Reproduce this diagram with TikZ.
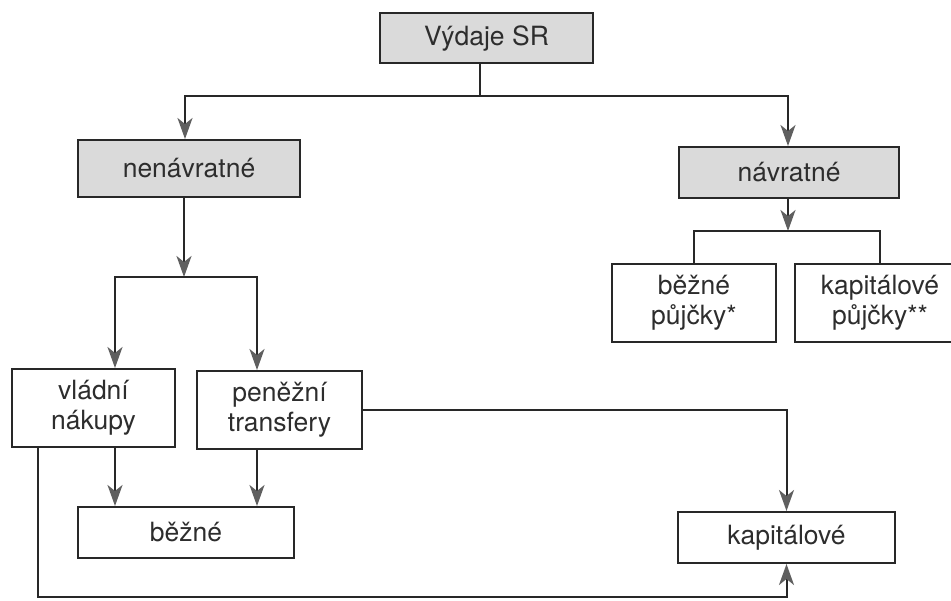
\documentclass[tikz,border=0pt]{standalone}
\usepackage{fontspec}
\setmainfont{TeX Gyre Heros}
\usetikzlibrary{arrows.meta}
\definecolor{ink}{RGB}{40,40,40}
\definecolor{txt}{RGB}{45,45,45}
\definecolor{shade}{RGB}{218,218,218}
\definecolor{tipc}{RGB}{95,95,95}
\begin{document}
\begin{tikzpicture}[x=1pt,y=-1pt,
  box/.style={draw=ink,line width=2pt,text=txt,align=center,inner sep=0pt,
    font=\fontsize{26.5}{30}\selectfont},
  gbox/.style={box,fill=shade},
  ln/.style={draw=ink,line width=2pt},
  arr/.style={ln,-{Stealth[length=21pt,width=15pt,inset=6pt,fill=tipc,color=tipc]}}]
\useasboundingbox (0,0) rectangle (951,601);
\fill[white] (0,0) rectangle (951,601);
% nodes
\node[gbox,minimum width=213pt,minimum height=50pt] (top) at (486.5,38) {Výdaje SR};
\node[gbox,minimum width=222pt,minimum height=57pt] (nen) at (189,168.5) {nenávratné};
\node[gbox,minimum width=220pt,minimum height=51pt] (nav) at (789,172.5) {návratné};
\node[box,minimum width=164pt,minimum height=78pt] (bp) at (694,303) {běžné\\půjčky*};
\node[box,minimum width=170pt,minimum height=78pt] (kp) at (880,303) {kapitálové\\půjčky**};
\node[box,minimum width=163pt,minimum height=78pt] (vn) at (93.5,408) {vládní\\nákupy};
\node[box,minimum width=165pt,minimum height=78pt] (pt) at (279.5,410) {peněžní\\transfery};
\node[box,minimum width=216pt,minimum height=51pt] (bz) at (186,532.5) {běžné};
\node[box,minimum width=217pt,minimum height=51pt] (kz) at (786.5,537.5) {kapitálové};
% junctions
\coordinate (b1) at (480,96);
\coordinate (b2) at (184,277);
\coordinate (b3) at (786.5,597);
\coordinate (b4) at (788,231);
% connectors
\draw[ln] (top.south -| b1) -- (b1);
\draw[arr] (b1) -| ([xshift=-4pt]nen.north);
\draw[arr] (b1) -| ([xshift=-1pt]nav.north);
\draw[arr] (nen.south -| b2) -- (b2);
\draw[arr] (b2) -| ([xshift=21.5pt]vn.north);
\draw[arr] (b2) -| ([xshift=-22.5pt]pt.north);
\draw[arr] ([xshift=21.5pt]vn.south) -- ([xshift=21.5pt]vn.south |- bz.north);
\draw[arr] ([xshift=-22.5pt]pt.south) -- ([xshift=-22.5pt]pt.south |- bz.north);
\draw[arr] (pt.east) -| (kz.north);
\draw[arr] ([xshift=-55.5pt]vn.south) |- (b3) -- (kz.south);
\draw[arr] (nav.south -| b4) -- (b4);
\draw[ln] (b4) -| (bp.north);
\draw[ln] (b4) -| (kp.north);
\end{tikzpicture}
\end{document}
